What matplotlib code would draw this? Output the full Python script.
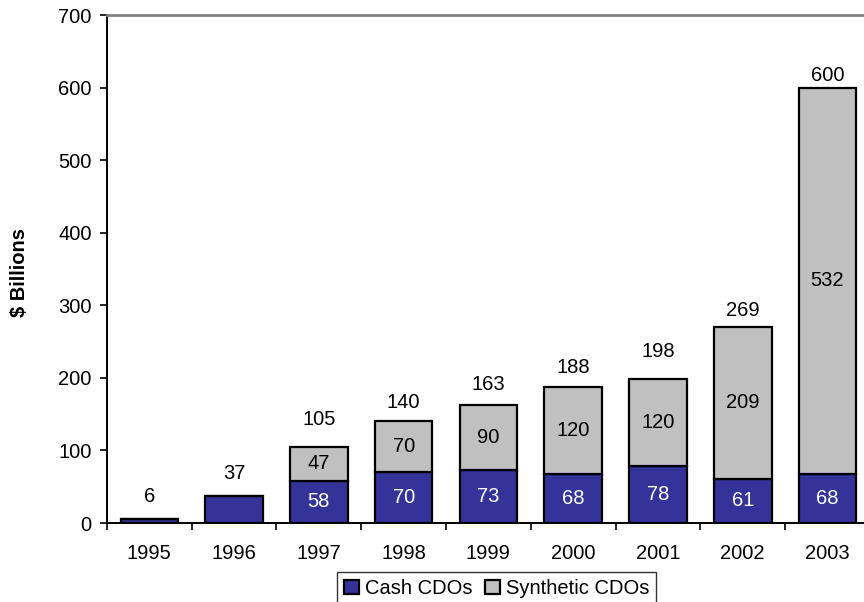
import matplotlib
matplotlib.use("Agg")
import matplotlib.pyplot as plt
from matplotlib.patches import Patch
import numpy as np

plt.rcParams['font.family'] = ['Liberation Sans', 'DejaVu Sans']

years = ["1995", "1996", "1997", "1998", "1999", "2000", "2001", "2002", "2003"]
cash = [6, 37, 58, 70, 73, 68, 78, 61, 68]
synthetic = [0, 0, 47, 70, 90, 120, 120, 209, 532]
totals = [6, 37, 105, 140, 163, 188, 198, 269, 600]

# gap (in pixels) between each bar top and the centre of its total label
total_gap_px = [22, 23, 27, 19, 20, 19, 28, 17, 12]

cash_color = "#333399"
synth_color = "#C0C0C0"
fs = 14.5
DPI = 100

fig = plt.figure(figsize=(8.64, 6.02), dpi=DPI)
ax = fig.add_axes([0.1238, 0.1312, 0.883, 0.8438])

x = np.arange(len(years))
w = 0.68
ax.bar(x, cash, w, color=cash_color, edgecolor="black", linewidth=1.6, zorder=3)
ax.bar(x, synthetic, w, bottom=cash, color=synth_color, edgecolor="black",
       linewidth=1.6, zorder=3)

for i in range(len(years)):
    if synthetic[i] > 0:
        ax.text(x[i], cash[i] / 2, str(cash[i]), ha="center", va="center",
                color="white", fontsize=fs, zorder=4)
        ax.text(x[i], cash[i] + synthetic[i] / 2, str(synthetic[i]), ha="center",
                va="center", color="black", fontsize=fs, zorder=4)
    ax.annotate(str(totals[i]), xy=(x[i], cash[i] + synthetic[i]),
                xytext=(0, total_gap_px[i] * 72 / DPI), textcoords="offset points",
                ha="center", va="center", color="black", fontsize=fs, zorder=4)

ax.set_xlim(-0.5, len(years) - 0.5)
ax.set_ylim(0, 700)
ax.set_yticks(range(0, 701, 100))
ax.tick_params(axis="y", direction="out", length=5, width=1.2, labelsize=fs, pad=6)
ax.set_xticks(x)
ax.set_xticklabels(years)
ax.tick_params(axis="x", which="major", length=0, labelsize=fs, pad=15)
ax.set_xticks(np.arange(-0.5, len(years), 1.0), minor=True)
ax.tick_params(axis="x", which="minor", direction="out", length=5, width=1.2)

ax.spines["left"].set_linewidth(1.4)
ax.spines["bottom"].set_linewidth(1.4)
ax.spines["top"].set_color("#808080")
ax.spines["top"].set_linewidth(2)
ax.spines["right"].set_visible(False)

fig.text(20 / 864, 1 - 272 / 602, "$ Billions", rotation=90, ha="center", va="center",
         fontsize=fs, fontweight="bold")

handles = [Patch(facecolor=cash_color, edgecolor="black", linewidth=1.6, label="Cash CDOs"),
           Patch(facecolor=synth_color, edgecolor="black", linewidth=1.6, label="Synthetic CDOs")]
leg = fig.legend(handles=handles, loc="lower center", bbox_to_anchor=(0.575, -0.022),
                 ncol=2, fontsize=fs, frameon=True, fancybox=False,
                 handlelength=0.75, handleheight=0.75, handletextpad=0.3,
                 columnspacing=0.6, borderpad=0.35, edgecolor="black")
leg.get_frame().set_linewidth(1.0)

fig.savefig("out.png", dpi=DPI)
